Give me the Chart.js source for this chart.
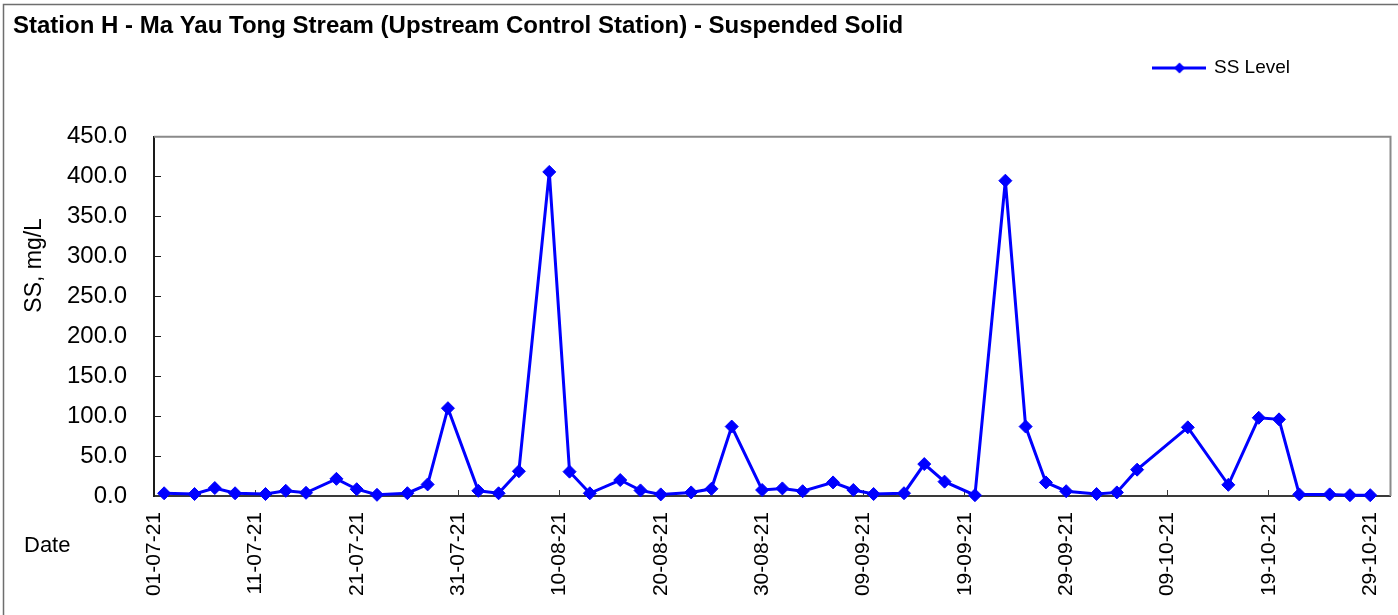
<!DOCTYPE html>
<html>
<head>
<meta charset="utf-8">
<title>Station H - Suspended Solid</title>
<script src="https://cdn.jsdelivr.net/npm/chart.js@4.4.1/dist/chart.umd.min.js"></script>
<style>
  html, body { margin: 0; padding: 0; background: #fff; }
  #ssChart { display: block; }
</style>
</head>
<body>
<canvas id="ssChart" width="1398" height="615"></canvas>
<script>
// sampling dates and SS readings (mg/L)
const sampleDates = [
    '2021-07-02', '2021-07-05', '2021-07-07', '2021-07-09', '2021-07-12', '2021-07-14', '2021-07-16',
    '2021-07-19', '2021-07-21', '2021-07-23', '2021-07-26', '2021-07-28', '2021-07-30',
    '2021-08-02', '2021-08-04', '2021-08-06', '2021-08-09', '2021-08-11', '2021-08-13', '2021-08-16',
    '2021-08-18', '2021-08-20', '2021-08-23', '2021-08-25', '2021-08-27', '2021-08-30',
    '2021-09-01', '2021-09-03', '2021-09-06', '2021-09-08', '2021-09-10', '2021-09-13', '2021-09-15',
    '2021-09-17', '2021-09-20', '2021-09-23', '2021-09-25', '2021-09-27', '2021-09-29',
    '2021-10-02', '2021-10-04', '2021-10-06', '2021-10-11', '2021-10-15', '2021-10-18', '2021-10-20',
    '2021-10-22', '2021-10-25', '2021-10-27', '2021-10-29'
];
const ssLevel = [
    3.4, 2.5, 10, 3.4, 2.5, 6.5, 4,
    21.5, 8.5, 1.5, 3.5, 14.5, 110,
    6.5, 3.4, 31, 406, 30.5, 3.4, 20,
    7, 2, 4.5, 9, 87, 7.5,
    9.5, 6, 17, 7.5, 2.5, 3.5, 40,
    18, 1, 395, 87, 17, 6,
    2.5, 4.5, 33, 86, 14, 98, 96,
    2, 2, 1, 1
];

const axisStart = '2021-07-01';
const axisEnd = '2021-10-31';
const xTickDays = 10;
const yTicks = [0, 50, 100, 150, 200, 250, 300, 350, 400, 450];

const FONT = "'Liberation Sans', Arial, Helvetica, sans-serif";
const BLUE = '#0000ff';
const DAY = 86400000;

function toUtc(s) {
    const p = s.split('-').map(Number);
    return Date.UTC(p[0], p[1] - 1, p[2]);
}
const t0 = toUtc(axisStart);
const dayOf = s => (toUtc(s) - t0) / DAY;

function fmtDate(day) {
    const d = new Date(t0 + day * DAY);
    const dd = String(d.getUTCDate()).padStart(2, '0');
    const mm = String(d.getUTCMonth() + 1).padStart(2, '0');
    const yy = String(d.getUTCFullYear()).slice(-2);
    return `${dd}-${mm}-${yy}`;
}

const points = sampleDates.map((s, i) => ({ x: dayOf(s), y: ssLevel[i] }));

// legend symbol: line with diamond, like the spreadsheet legend
const legendIcon = document.createElement('canvas');
legendIcon.width = 54;
legendIcon.height = 14;
(function () {
    const c = legendIcon.getContext('2d');
    c.strokeStyle = BLUE;
    c.lineWidth = 3;
    c.beginPath();
    c.moveTo(0, 7);
    c.lineTo(54, 7);
    c.stroke();
    c.fillStyle = BLUE;
    c.beginPath();
    c.moveTo(27, 1.5);
    c.lineTo(32.5, 7);
    c.lineTo(27, 12.5);
    c.lineTo(21.5, 7);
    c.closePath();
    c.fill();
})();

const framePlugin = {
    id: 'frame',
    beforeDraw(chart) {
        const ctx = chart.ctx;
        ctx.save();
        ctx.fillStyle = '#fff';
        ctx.fillRect(0, 0, chart.width, chart.height);
        ctx.strokeStyle = '#6e6e6e';
        ctx.lineWidth = 1.5;
        ctx.strokeRect(3.5, 4.5, chart.width + 20, chart.height + 20);
        ctx.restore();
    },
    afterLayout(chart) {
        // put the legend up at the right like the original sheet
        const lg = chart.legend;
        const dx = 1300 - lg.right;
        const dy = 48.5 - lg.top;
        lg.left += dx; lg.right += dx;
        lg.top += dy; lg.bottom += dy;
    },
    beforeDatasetsDraw(chart) {
        const { ctx, chartArea: a } = chart;
        ctx.save();
        ctx.strokeStyle = '#8a8a8a';
        ctx.lineWidth = 2;
        ctx.beginPath();
        ctx.moveTo(a.left, a.top);
        ctx.lineTo(a.right, a.top);
        ctx.lineTo(a.right, a.bottom);
        ctx.stroke();

        ctx.fillStyle = '#000';
        ctx.font = `22px ${FONT}`;
        ctx.textAlign = 'left';
        ctx.textBaseline = 'alphabetic';
        ctx.fillText('Date', 24, 552);

        ctx.translate(41, (a.top + a.bottom) / 2 - 51);
        ctx.rotate(-Math.PI / 2);
        ctx.textAlign = 'center';
        ctx.font = `23px ${FONT}`;
        ctx.fillText('SS, mg/L', 0, 0);
        ctx.restore();
    }
};

new Chart(document.getElementById('ssChart'), {
    type: 'line',
    data: {
        datasets: [{
            label: 'SS Level',
            data: points,
            borderColor: BLUE,
            backgroundColor: BLUE,
            borderWidth: 3,
            pointStyle: 'rectRot',
            pointRadius: 6.5,
            pointBackgroundColor: BLUE,
            pointBorderColor: BLUE,
            pointBorderWidth: 1,
            tension: 0,
            clip: false
        }]
    },
    options: {
        responsive: false,
        animation: false,
        devicePixelRatio: 1,
        layout: { padding: { left: 13, right: 6, top: 0, bottom: 0 } },
        plugins: {
            title: {
                display: true,
                text: 'Station H - Ma Yau Tong Stream (Upstream Control Station) - Suspended Solid',
                align: 'start',
                color: '#000',
                font: { family: FONT, size: 24, weight: 'bold' },
                padding: { top: 12, bottom: 57 }
            },
            legend: {
                display: true,
                position: 'top',
                align: 'end',
                labels: {
                    color: '#000',
                    font: { family: FONT, size: 19 },
                    usePointStyle: true,
                    pointStyleWidth: 50,
                    padding: 10,
                    generateLabels: chart => chart.data.datasets.map((ds, i) => ({
                        text: ds.label,
                        pointStyle: legendIcon,
                        fillStyle: BLUE,
                        strokeStyle: BLUE,
                        lineWidth: 0,
                        datasetIndex: i,
                        fontColor: '#000'
                    }))
                }
            },
            tooltip: { enabled: false }
        },
        scales: {
            x: {
                type: 'linear',
                min: dayOf(axisStart),
                max: dayOf(axisEnd),
                afterFit: s => {
                    s.height = 119;
                    // rotated labels fit already, keep the full plot width
                    s.paddingLeft = 0;
                    s.paddingRight = 0;
                },
                border: { display: true, color: '#3a3a3a', width: 2 },
                grid: {
                    drawOnChartArea: false,
                    drawTicks: true,
                    tickLength: -6,
                    tickColor: '#3a3a3a',
                    tickWidth: 1
                },
                ticks: {
                    stepSize: xTickDays,
                    includeBounds: false,
                    autoSkip: false,
                    minRotation: 90,
                    maxRotation: 90,
                    padding: 22,
                    color: '#000',
                    font: { family: FONT, size: 21 },
                    callback: v => fmtDate(v)
                }
            },
            y: {
                min: yTicks[0],
                max: yTicks[yTicks.length - 1],
                afterFit: s => { s.width = 141; },
                afterBuildTicks: s => { s.ticks = yTicks.map(v => ({ value: v })); },
                border: { display: true, color: '#1a1a1a', width: 2 },
                grid: {
                    drawOnChartArea: false,
                    drawTicks: true,
                    tickLength: -7,
                    tickColor: '#1a1a1a',
                    tickWidth: 1
                },
                ticks: {
                    padding: 34,
                    color: '#000',
                    font: { family: FONT, size: 24 },
                    callback: v => Number(v).toFixed(1)
                }
            }
        }
    },
    plugins: [framePlugin]
});
</script>
</body>
</html>
